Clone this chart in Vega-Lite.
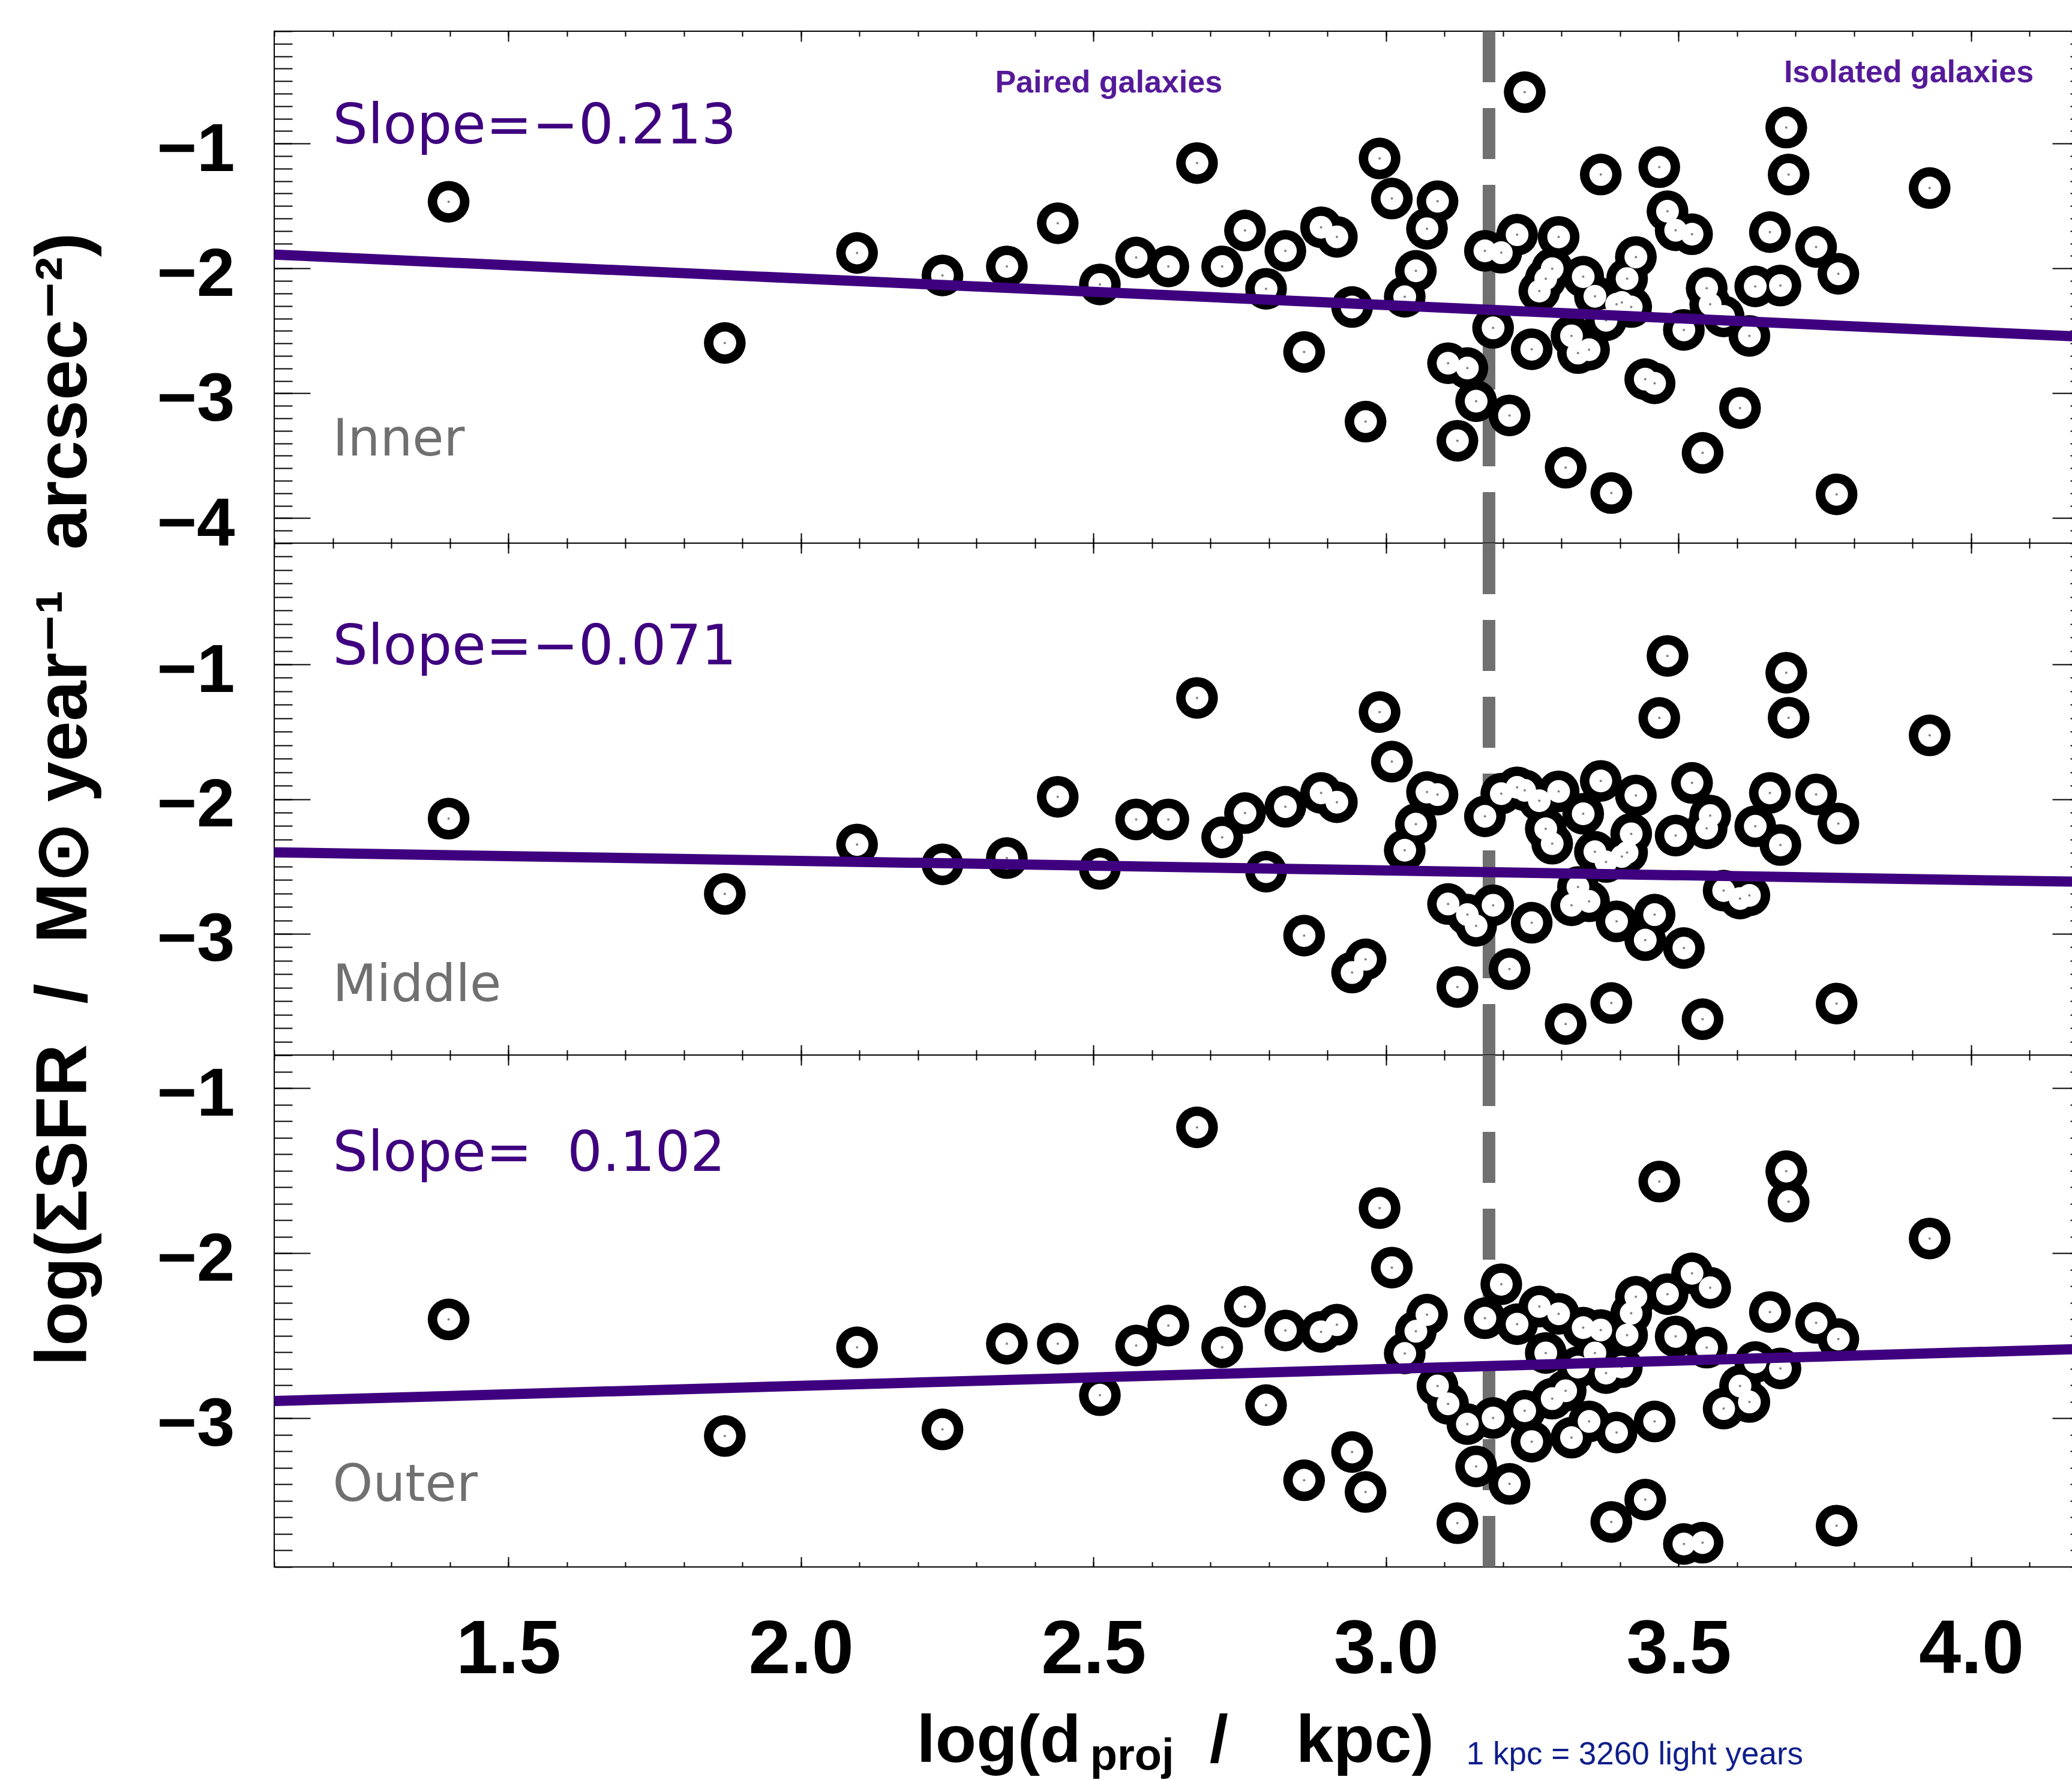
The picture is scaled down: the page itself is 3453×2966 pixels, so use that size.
{
  "$schema": "https://vega.github.io/schema/vega-lite/v6.json",
  "background": "white",
  "padding": {"left": 45, "top": 40, "right": 0, "bottom": 0},
  "config": {
    "view": {"stroke": "black", "strokeWidth": 2},
    "axis": {"domain": false, "grid": false, "tickColor": "black", "tickWidth": 2, "labelColor": "black", "titleColor": "black"}
  },
  "datasets": {
    "gal": [
      {"d":1.398,"inner":-1.466,"middle":-2.145,"outer":-2.401},
      {"d":1.870,"inner":-2.597,"middle":-2.704,"outer":-3.107},
      {"d":2.096,"inner":-1.876,"middle":-2.337,"outer":-2.570},
      {"d":2.242,"inner":-2.056,"middle":-2.484,"outer":-3.067},
      {"d":2.352,"inner":-1.984,"middle":-2.438,"outer":-2.548},
      {"d":2.439,"inner":-1.638,"middle":-1.983,"outer":-2.548},
      {"d":2.511,"inner":-2.128,"middle":-2.518,"outer":-2.860},
      {"d":2.573,"inner":-1.912,"middle":-2.151,"outer":-2.559},
      {"d":2.628,"inner":-1.984,"middle":-2.151,"outer":-2.438},
      {"d":2.677,"inner":-1.156,"middle":-1.249,"outer":-1.238},
      {"d":2.720,"inner":-1.984,"middle":-2.284,"outer":-2.570},
      {"d":2.759,"inner":-1.696,"middle":-2.104,"outer":-2.324},
      {"d":2.795,"inner":-2.163,"middle":-2.539,"outer":-2.920},
      {"d":2.828,"inner":-1.859,"middle":-2.057,"outer":-2.468},
      {"d":2.860,"inner":-2.669,"middle":-3.013,"outer":-3.375},
      {"d":2.889,"inner":-1.670,"middle":-1.954,"outer":-2.476},
      {"d":2.916,"inner":-1.747,"middle":-2.023,"outer":-2.433},
      {"d":2.942,"inner":-2.309,"middle":-3.288,"outer":-3.204},
      {"d":2.965,"inner":-3.227,"middle":-3.190,"outer":-3.446},
      {"d":2.989,"inner":-1.119,"middle":-1.354,"outer":-1.727},
      {"d":3.010,"inner":-1.440,"middle":-1.722,"outer":-2.087},
      {"d":3.032,"inner":-2.227,"middle":-2.380,"outer":-2.607},
      {"d":3.051,"inner":-2.019,"middle":-2.186,"outer":-2.473},
      {"d":3.070,"inner":-1.682,"middle":-1.948,"outer":-2.372},
      {"d":3.088,"inner":-1.462,"middle":-1.967,"outer":-2.804},
      {"d":3.106,"inner":-2.759,"middle":-2.779,"outer":-2.912},
      {"d":3.122,"inner":-3.380,"middle":-3.395,"outer":-3.635},
      {"d":3.139,"inner":-2.798,"middle":-2.858,"outer":-3.035},
      {"d":3.154,"inner":-3.063,"middle":-2.941,"outer":-3.291},
      {"d":3.169,"inner":-1.859,"middle":-2.128,"outer":-2.394},
      {"d":3.183,"inner":-2.476,"middle":-2.788,"outer":-2.998},
      {"d":3.197,"inner":-1.874,"middle":-1.960,"outer":-2.188},
      {"d":3.211,"inner":-3.177,"middle":-3.262,"outer":-3.397},
      {"d":3.224,"inner":-1.730,"middle":-1.913,"outer":-2.430},
      {"d":3.237,"inner":-0.588,"middle":-1.935,"outer":-2.954},
      {"d":3.249,"inner":-2.647,"middle":-2.918,"outer":-3.141},
      {"d":3.262,"inner":-2.181,"middle":-2.012,"outer":-2.323},
      {"d":3.273,"inner":-2.083,"middle":-2.221,"outer":-2.604},
      {"d":3.284,"inner":-2.002,"middle":-2.331,"outer":-2.881},
      {"d":3.295,"inner":-1.747,"middle":-1.943,"outer":-2.367},
      {"d":3.307,"inner":-3.596,"middle":-3.669,"outer":-2.833},
      {"d":3.317,"inner":-2.540,"middle":-2.788,"outer":-3.117},
      {"d":3.328,"inner":-2.678,"middle":-2.653,"outer":-2.690},
      {"d":3.337,"inner":-2.066,"middle":-2.109,"outer":-2.451},
      {"d":3.347,"inner":-2.651,"middle":-2.759,"outer":-3.019},
      {"d":3.357,"inner":-2.223,"middle":-2.391,"outer":-2.604},
      {"d":3.367,"inner":-1.248,"middle":-1.865,"outer":-2.465},
      {"d":3.376,"inner":-2.415,"middle":-2.467,"outer":-2.726},
      {"d":3.385,"inner":-3.799,"middle":-3.514,"outer":-3.627},
      {"d":3.394,"inner":-2.287,"middle":-2.908,"outer":-3.086},
      {"d":3.403,"inner":-2.273,"middle":-2.426,"outer":-2.690},
      {"d":3.412,"inner":-2.081,"middle":-2.397,"outer":-2.496},
      {"d":3.419,"inner":-2.309,"middle":-2.258,"outer":-2.364},
      {"d":3.427,"inner":-1.908,"middle":-1.973,"outer":-2.264},
      {"d":3.443,"inner":-2.887,"middle":-3.047,"outer":-3.492},
      {"d":3.459,"inner":-2.920,"middle":-2.858,"outer":-3.019},
      {"d":3.467,"inner":-1.189,"middle":-1.398,"outer":-1.566},
      {"d":3.481,"inner":-1.542,"middle":-0.937,"outer":-2.248},
      {"d":3.495,"inner":-1.694,"middle":-2.271,"outer":-2.504},
      {"d":3.509,"inner":-2.492,"middle":-3.106,"outer":-3.761},
      {"d":3.523,"inner":-1.726,"middle":-1.880,"outer":-2.122},
      {"d":3.541,"inner":-3.477,"middle":-3.634,"outer":-3.753},
      {"d":3.548,"inner":-2.158,"middle":-2.217,"outer":-2.572},
      {"d":3.554,"inner":-2.287,"middle":-2.122,"outer":-2.209},
      {"d":3.577,"inner":-2.384,"middle":-2.679,"outer":-2.941},
      {"d":3.605,"inner":-3.118,"middle":-2.738,"outer":-2.804},
      {"d":3.621,"inner":-2.540,"middle":-2.715,"outer":-2.901},
      {"d":3.631,"inner":-2.144,"middle":-2.202,"outer":-2.659},
      {"d":3.656,"inner":-1.709,"middle":-1.954,"outer":-2.356},
      {"d":3.674,"inner":-2.137,"middle":-2.341,"outer":-2.698},
      {"d":3.684,"inner":-0.872,"middle":-1.062,"outer":-1.503},
      {"d":3.688,"inner":-1.248,"middle":-1.396,"outer":-1.688},
      {"d":3.735,"inner":-1.828,"middle":-1.965,"outer":-2.422},
      {"d":3.770,"inner":-3.809,"middle":-3.518,"outer":-3.650},
      {"d":3.773,"inner":-2.043,"middle":-2.182,"outer":-2.520},
      {"d":3.929,"inner":-1.356,"middle":-1.527,"outer":-1.911}
    ],
    "fit": [
      {"d":1.1,"inner":-1.889,"middle":-2.395,"outer":-2.895},
      {"d":4.2,"inner":-2.549,"middle":-2.615,"outer":-2.579}
    ],
    "vline": [{"x":3.176}]
  },
  "spacing": 0,
  "bounds": "flush",
  "resolve": {"scale": {"x": "independent", "y": "independent"}, "axis": {"x": "independent", "y": "independent"}},
  "vconcat": [
    {
      "width": 3023, "height": 853,
      "resolve": {"axis": {"x": "independent", "y": "independent"}},
      "layer": [
        {"data": {"name": "vline"}, "mark": {"type": "rule", "color": "#707070", "strokeWidth": 21, "strokeDash": [85, 43]},
         "encoding": {"x": {"field": "x", "type": "quantitative", "scale": {"domain": [1.1, 4.2], "nice": false, "zero": false}, "axis": null}}},
        {"data": {"name": "gal"}, "mark": {"type": "circle", "color": "black", "size": 4830, "opacity": 1},
         "encoding": {
           "x": {"field": "d", "type": "quantitative", "scale": {"domain": [1.1, 4.2], "nice": false, "zero": false}, "axis": {"orient": "bottom", "values": [1.5, 2, 2.5, 3, 3.5, 4], "tickSize": -17, "labels": false, "title": null}},
           "y": {"field": "inner", "type": "quantitative", "scale": {"domain": [-4.2, -0.1], "nice": false, "zero": false}, "axis": {"orient": "left", "values": [-1, -2, -3, -4], "tickSize": -60, "format": "d", "labelFont": "Liberation Sans", "labelFontWeight": "bold", "labelFontSize": 114, "labelPadding": 126, "labelOffset": 11, "title": null}}}},
        {"data": {"name": "gal"}, "mark": {"type": "circle", "color": "white", "size": 1444, "opacity": 1},
         "encoding": {
           "x": {"field": "d", "type": "quantitative", "scale": {"domain": [1.1, 4.2], "nice": false, "zero": false}, "axis": {"orient": "bottom", "values": [1.1,1.2,1.3,1.4,1.5,1.6,1.7,1.8,1.9,2.0,2.1,2.2,2.3,2.4,2.5,2.6,2.7,2.8,2.9,3.0,3.1,3.2,3.3,3.4,3.5,3.6,3.7,3.8,3.9,4.0,4.1,4.2], "tickSize": -8.5, "labels": false, "title": null}},
           "y": {"field": "inner", "type": "quantitative", "scale": {"domain": [-4.2, -0.1], "nice": false, "zero": false}, "axis": {"orient": "left", "values": [-0.1,-0.2,-0.3,-0.4,-0.5,-0.6,-0.7,-0.8,-0.9,-1,-1.1,-1.2,-1.3,-1.4,-1.5,-1.6,-1.7,-1.8,-1.9,-2,-2.1,-2.2,-2.3,-2.4,-2.5,-2.6,-2.7,-2.8,-2.9,-3,-3.1,-3.2,-3.3,-3.4,-3.5,-3.6,-3.7,-3.8,-3.9,-4,-4.1,-4.2], "tickSize": -30, "labels": false, "title": null}}}},
        {"data": {"name": "gal"}, "mark": {"type": "circle", "color": "#808080", "size": 16, "opacity": 1},
         "encoding": {
           "x": {"field": "d", "type": "quantitative", "scale": {"domain": [1.1, 4.2], "nice": false, "zero": false}, "axis": {"orient": "top", "values": [1.5, 2, 2.5, 3, 3.5, 4], "tickSize": -17, "labels": false, "title": null}},
           "y": {"field": "inner", "type": "quantitative", "scale": {"domain": [-4.2, -0.1], "nice": false, "zero": false}, "axis": {"orient": "right", "values": [-1, -2, -3, -4], "tickSize": -60, "labels": false, "title": null}}}},
        {"data": {"name": "fit"}, "mark": {"type": "line", "color": "#3f007f", "strokeWidth": 17, "strokeCap": "butt"},
         "encoding": {
           "x": {"field": "d", "type": "quantitative", "scale": {"domain": [1.1, 4.2], "nice": false, "zero": false}, "axis": {"orient": "top", "values": [1.1,1.2,1.3,1.4,1.5,1.6,1.7,1.8,1.9,2.0,2.1,2.2,2.3,2.4,2.5,2.6,2.7,2.8,2.9,3.0,3.1,3.2,3.3,3.4,3.5,3.6,3.7,3.8,3.9,4.0,4.1,4.2], "tickSize": -8.5, "labels": false, "title": null}},
           "y": {"field": "inner", "type": "quantitative", "scale": {"domain": [-4.2, -0.1], "nice": false, "zero": false}, "axis": {"orient": "right", "values": [-0.1,-0.2,-0.3,-0.4,-0.5,-0.6,-0.7,-0.8,-0.9,-1,-1.1,-1.2,-1.3,-1.4,-1.5,-1.6,-1.7,-1.8,-1.9,-2,-2.1,-2.2,-2.3,-2.4,-2.5,-2.6,-2.7,-2.8,-2.9,-3,-3.1,-3.2,-3.3,-3.4,-3.5,-3.6,-3.7,-3.8,-3.9,-4,-4.1,-4.2], "tickSize": -30, "labels": false, "title": null}}}},
        {"data": {"values": [{"x": 1.2, "y": -1.0, "t": "Slope=−0.213"}]}, "mark": {"type": "text", "align": "left", "baseline": "alphabetic", "font": "DejaVu Sans", "fontSize": 92, "color": "#3f007f"},
         "encoding": {"x": {"field": "x", "type": "quantitative", "scale": {"domain": [1.1, 4.2], "nice": false, "zero": false}, "axis": null}, "y": {"field": "y", "type": "quantitative", "scale": {"domain": [-4.2, -0.1], "nice": false, "zero": false}, "axis": null}, "text": {"field": "t"}}},
        {"data": {"values": [{"x": 1.2, "y": -3.5, "t": "Inner"}]}, "mark": {"type": "text", "align": "left", "baseline": "alphabetic", "font": "DejaVu Sans", "fontSize": 85, "color": "#707070"},
         "encoding": {"x": {"field": "x", "type": "quantitative", "scale": {"domain": [1.1, 4.2], "nice": false, "zero": false}, "axis": null}, "y": {"field": "y", "type": "quantitative", "scale": {"domain": [-4.2, -0.1], "nice": false, "zero": false}, "axis": null}, "text": {"field": "t"}}},
        {"data": {"values": [{"x": 2.332, "y": -0.592, "t": "Paired galaxies"}, {"x": 3.68, "y": -0.51, "t": "Isolated galaxies"}]}, "mark": {"type": "text", "align": "left", "baseline": "alphabetic", "font": "Liberation Sans", "fontWeight": "bold", "fontSize": 52, "color": "#551a99"},
         "encoding": {"x": {"field": "x", "type": "quantitative", "scale": {"domain": [1.1, 4.2], "nice": false, "zero": false}, "axis": null}, "y": {"field": "y", "type": "quantitative", "scale": {"domain": [-4.2, -0.1], "nice": false, "zero": false}, "axis": null}, "text": {"field": "t"}}}
      ]
    },
    {
      "width": 3023, "height": 853,
      "resolve": {"axis": {"x": "independent", "y": "independent"}},
      "layer": [
        {"data": {"name": "vline"}, "mark": {"type": "rule", "color": "#707070", "strokeWidth": 21, "strokeDash": [85, 43]},
         "encoding": {"x": {"field": "x", "type": "quantitative", "scale": {"domain": [1.1, 4.2], "nice": false, "zero": false}, "axis": null}}},
        {"data": {"name": "gal"}, "mark": {"type": "circle", "color": "black", "size": 4830, "opacity": 1},
         "encoding": {
           "x": {"field": "d", "type": "quantitative", "scale": {"domain": [1.1, 4.2], "nice": false, "zero": false}, "axis": {"orient": "bottom", "values": [1.5, 2, 2.5, 3, 3.5, 4], "tickSize": -17, "labels": false, "title": null}},
           "y": {"field": "middle", "type": "quantitative", "scale": {"domain": [-3.9, -0.1], "nice": false, "zero": false}, "axis": {"orient": "left", "values": [-1, -2, -3], "tickSize": -60, "format": "d", "labelFont": "Liberation Sans", "labelFontWeight": "bold", "labelFontSize": 114, "labelPadding": 126, "labelOffset": 11, "title": "log(ΣSFR\u00a0\u00a0/\u00a0\u00a0M⊙\u00a0year⁻¹\u00a0\u00a0arcsec⁻²)", "titleFont": "Liberation Sans", "titleFontWeight": "bold", "titleFontSize": 121, "titlePadding": 93}}}},
        {"data": {"name": "gal"}, "mark": {"type": "circle", "color": "white", "size": 1444, "opacity": 1},
         "encoding": {
           "x": {"field": "d", "type": "quantitative", "scale": {"domain": [1.1, 4.2], "nice": false, "zero": false}, "axis": {"orient": "bottom", "values": [1.1,1.2,1.3,1.4,1.5,1.6,1.7,1.8,1.9,2.0,2.1,2.2,2.3,2.4,2.5,2.6,2.7,2.8,2.9,3.0,3.1,3.2,3.3,3.4,3.5,3.6,3.7,3.8,3.9,4.0,4.1,4.2], "tickSize": -8.5, "labels": false, "title": null}},
           "y": {"field": "middle", "type": "quantitative", "scale": {"domain": [-3.9, -0.1], "nice": false, "zero": false}, "axis": {"orient": "left", "values": [-0.1,-0.2,-0.3,-0.4,-0.5,-0.6,-0.7,-0.8,-0.9,-1,-1.1,-1.2,-1.3,-1.4,-1.5,-1.6,-1.7,-1.8,-1.9,-2,-2.1,-2.2,-2.3,-2.4,-2.5,-2.6,-2.7,-2.8,-2.9,-3,-3.1,-3.2,-3.3,-3.4,-3.5,-3.6,-3.7,-3.8,-3.9], "tickSize": -30, "labels": false, "title": null}}}},
        {"data": {"name": "gal"}, "mark": {"type": "circle", "color": "#808080", "size": 16, "opacity": 1},
         "encoding": {
           "x": {"field": "d", "type": "quantitative", "scale": {"domain": [1.1, 4.2], "nice": false, "zero": false}, "axis": {"orient": "top", "values": [1.5, 2, 2.5, 3, 3.5, 4], "tickSize": -17, "labels": false, "title": null}},
           "y": {"field": "middle", "type": "quantitative", "scale": {"domain": [-3.9, -0.1], "nice": false, "zero": false}, "axis": {"orient": "right", "values": [-1, -2, -3], "tickSize": -60, "labels": false, "title": null}}}},
        {"data": {"name": "fit"}, "mark": {"type": "line", "color": "#3f007f", "strokeWidth": 17, "strokeCap": "butt"},
         "encoding": {
           "x": {"field": "d", "type": "quantitative", "scale": {"domain": [1.1, 4.2], "nice": false, "zero": false}, "axis": {"orient": "top", "values": [1.1,1.2,1.3,1.4,1.5,1.6,1.7,1.8,1.9,2.0,2.1,2.2,2.3,2.4,2.5,2.6,2.7,2.8,2.9,3.0,3.1,3.2,3.3,3.4,3.5,3.6,3.7,3.8,3.9,4.0,4.1,4.2], "tickSize": -8.5, "labels": false, "title": null}},
           "y": {"field": "middle", "type": "quantitative", "scale": {"domain": [-3.9, -0.1], "nice": false, "zero": false}, "axis": {"orient": "right", "values": [-0.1,-0.2,-0.3,-0.4,-0.5,-0.6,-0.7,-0.8,-0.9,-1,-1.1,-1.2,-1.3,-1.4,-1.5,-1.6,-1.7,-1.8,-1.9,-2,-2.1,-2.2,-2.3,-2.4,-2.5,-2.6,-2.7,-2.8,-2.9,-3,-3.1,-3.2,-3.3,-3.4,-3.5,-3.6,-3.7,-3.8,-3.9], "tickSize": -30, "labels": false, "title": null}}}},
        {"data": {"values": [{"x": 1.2, "y": -1.0, "t": "Slope=−0.071"}]}, "mark": {"type": "text", "align": "left", "baseline": "alphabetic", "font": "DejaVu Sans", "fontSize": 92, "color": "#3f007f"},
         "encoding": {"x": {"field": "x", "type": "quantitative", "scale": {"domain": [1.1, 4.2], "nice": false, "zero": false}, "axis": null}, "y": {"field": "y", "type": "quantitative", "scale": {"domain": [-3.9, -0.1], "nice": false, "zero": false}, "axis": null}, "text": {"field": "t"}}},
        {"data": {"values": [{"x": 1.2, "y": -3.5, "t": "Middle"}]}, "mark": {"type": "text", "align": "left", "baseline": "alphabetic", "font": "DejaVu Sans", "fontSize": 85, "color": "#707070"},
         "encoding": {"x": {"field": "x", "type": "quantitative", "scale": {"domain": [1.1, 4.2], "nice": false, "zero": false}, "axis": null}, "y": {"field": "y", "type": "quantitative", "scale": {"domain": [-3.9, -0.1], "nice": false, "zero": false}, "axis": null}, "text": {"field": "t"}}}
      ]
    },
    {
      "width": 3023, "height": 853,
      "resolve": {"axis": {"x": "independent", "y": "independent"}},
      "layer": [
        {"data": {"name": "vline"}, "mark": {"type": "rule", "color": "#707070", "strokeWidth": 21, "strokeDash": [85, 43]},
         "encoding": {"x": {"field": "x", "type": "quantitative", "scale": {"domain": [1.1, 4.2], "nice": false, "zero": false}, "axis": null}}},
        {"data": {"name": "gal"}, "mark": {"type": "circle", "color": "black", "size": 4830, "opacity": 1},
         "encoding": {
           "x": {"field": "d", "type": "quantitative", "scale": {"domain": [1.1, 4.2], "nice": false, "zero": false}, "axis": {"orient": "bottom", "values": [1.5, 2, 2.5, 3, 3.5, 4], "tickSize": -17, "format": ".1f", "labelFont": "Liberation Sans", "labelFontWeight": "bold", "labelFontSize": 126, "labelPadding": 93, "labelFlush": false, "labelOverlap": false, "title": null}},
           "y": {"field": "outer", "type": "quantitative", "scale": {"domain": [-3.9, -0.8], "nice": false, "zero": false}, "axis": {"orient": "left", "values": [-1, -2, -3], "tickSize": -60, "format": "d", "labelFont": "Liberation Sans", "labelFontWeight": "bold", "labelFontSize": 114, "labelPadding": 126, "labelOffset": 11, "title": null}}}},
        {"data": {"name": "gal"}, "mark": {"type": "circle", "color": "white", "size": 1444, "opacity": 1},
         "encoding": {
           "x": {"field": "d", "type": "quantitative", "scale": {"domain": [1.1, 4.2], "nice": false, "zero": false}, "axis": {"orient": "bottom", "values": [1.1,1.2,1.3,1.4,1.5,1.6,1.7,1.8,1.9,2.0,2.1,2.2,2.3,2.4,2.5,2.6,2.7,2.8,2.9,3.0,3.1,3.2,3.3,3.4,3.5,3.6,3.7,3.8,3.9,4.0,4.1,4.2], "tickSize": -8.5, "labels": false, "title": null}},
           "y": {"field": "outer", "type": "quantitative", "scale": {"domain": [-3.9, -0.8], "nice": false, "zero": false}, "axis": {"orient": "left", "values": [-0.8,-0.9,-1,-1.1,-1.2,-1.3,-1.4,-1.5,-1.6,-1.7,-1.8,-1.9,-2,-2.1,-2.2,-2.3,-2.4,-2.5,-2.6,-2.7,-2.8,-2.9,-3,-3.1,-3.2,-3.3,-3.4,-3.5,-3.6,-3.7,-3.8,-3.9], "tickSize": -30, "labels": false, "title": null}}}},
        {"data": {"name": "gal"}, "mark": {"type": "circle", "color": "#808080", "size": 16, "opacity": 1},
         "encoding": {
           "x": {"field": "d", "type": "quantitative", "scale": {"domain": [1.1, 4.2], "nice": false, "zero": false}, "axis": {"orient": "top", "values": [1.5, 2, 2.5, 3, 3.5, 4], "tickSize": -17, "labels": false, "title": null}},
           "y": {"field": "outer", "type": "quantitative", "scale": {"domain": [-3.9, -0.8], "nice": false, "zero": false}, "axis": {"orient": "right", "values": [-1, -2, -3], "tickSize": -60, "labels": false, "title": null}}}},
        {"data": {"name": "fit"}, "mark": {"type": "line", "color": "#3f007f", "strokeWidth": 17, "strokeCap": "butt"},
         "encoding": {
           "x": {"field": "d", "type": "quantitative", "scale": {"domain": [1.1, 4.2], "nice": false, "zero": false}, "axis": {"orient": "top", "values": [1.1,1.2,1.3,1.4,1.5,1.6,1.7,1.8,1.9,2.0,2.1,2.2,2.3,2.4,2.5,2.6,2.7,2.8,2.9,3.0,3.1,3.2,3.3,3.4,3.5,3.6,3.7,3.8,3.9,4.0,4.1,4.2], "tickSize": -8.5, "labels": false, "title": null}},
           "y": {"field": "outer", "type": "quantitative", "scale": {"domain": [-3.9, -0.8], "nice": false, "zero": false}, "axis": {"orient": "right", "values": [-0.8,-0.9,-1,-1.1,-1.2,-1.3,-1.4,-1.5,-1.6,-1.7,-1.8,-1.9,-2,-2.1,-2.2,-2.3,-2.4,-2.5,-2.6,-2.7,-2.8,-2.9,-3,-3.1,-3.2,-3.3,-3.4,-3.5,-3.6,-3.7,-3.8,-3.9], "tickSize": -30, "labels": false, "title": null}}}},
        {"data": {"values": [{"x": 1.2, "y": -1.5, "t": "Slope=\u00a0\u00a00.102"}]}, "mark": {"type": "text", "align": "left", "baseline": "alphabetic", "font": "DejaVu Sans", "fontSize": 92, "color": "#3f007f"},
         "encoding": {"x": {"field": "x", "type": "quantitative", "scale": {"domain": [1.1, 4.2], "nice": false, "zero": false}, "axis": null}, "y": {"field": "y", "type": "quantitative", "scale": {"domain": [-3.9, -0.8], "nice": false, "zero": false}, "axis": null}, "text": {"field": "t"}}},
        {"data": {"values": [{"x": 1.2, "y": -3.5, "t": "Outer"}]}, "mark": {"type": "text", "align": "left", "baseline": "alphabetic", "font": "DejaVu Sans", "fontSize": 85, "color": "#707070"},
         "encoding": {"x": {"field": "x", "type": "quantitative", "scale": {"domain": [1.1, 4.2], "nice": false, "zero": false}, "axis": null}, "y": {"field": "y", "type": "quantitative", "scale": {"domain": [-3.9, -0.8], "nice": false, "zero": false}, "axis": null}, "text": {"field": "t"}}},
        {"data": {"values": [{"x": 2.198, "y": -5.08, "t": "log(d"}, {"x": 2.6985, "y": -5.08, "t": "/"}, {"x": 2.846, "y": -5.08, "t": "kpc)"}]}, "mark": {"type": "text", "align": "left", "baseline": "alphabetic", "font": "Liberation Sans", "fontWeight": "bold", "fontSize": 112, "color": "black"},
         "encoding": {"x": {"field": "x", "type": "quantitative", "scale": {"domain": [1.1, 4.2], "nice": false, "zero": false}, "axis": null}, "y": {"field": "y", "type": "quantitative", "scale": {"domain": [-3.9, -0.8], "nice": false, "zero": false}, "axis": null}, "text": {"field": "t"}}},
        {"data": {"values": [{"x": 2.4944, "y": -5.13, "t": "proj"}]}, "mark": {"type": "text", "align": "left", "baseline": "alphabetic", "font": "Liberation Sans", "fontWeight": "bold", "fontSize": 74, "color": "black"},
         "encoding": {"x": {"field": "x", "type": "quantitative", "scale": {"domain": [1.1, 4.2], "nice": false, "zero": false}, "axis": null}, "y": {"field": "y", "type": "quantitative", "scale": {"domain": [-3.9, -0.8], "nice": false, "zero": false}, "axis": null}, "text": {"field": "t"}}},
        {"data": {"values": [{"x": 3.1374, "y": -5.095, "t": "1 kpc = 3260 light years"}]}, "mark": {"type": "text", "align": "left", "baseline": "alphabetic", "font": "Liberation Sans", "fontSize": 53, "color": "#0f1e8c"},
         "encoding": {"x": {"field": "x", "type": "quantitative", "scale": {"domain": [1.1, 4.2], "nice": false, "zero": false}, "axis": null}, "y": {"field": "y", "type": "quantitative", "scale": {"domain": [-3.9, -0.8], "nice": false, "zero": false}, "axis": null}, "text": {"field": "t"}}}
      ]
    }
  ]
}
